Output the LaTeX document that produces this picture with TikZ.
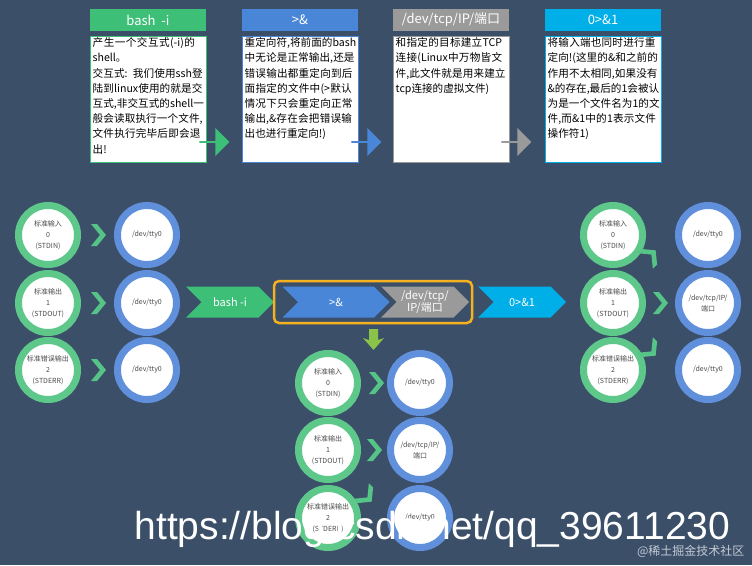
\documentclass[tikz,border=0pt]{standalone}
\usepackage{fontspec}
\setmainfont{Noto Sans CJK SC}
\XeTeXlinebreaklocale "zh"
\XeTeXlinebreakskip=0pt plus 1pt
\usetikzlibrary{shapes.symbols,shapes.arrows}
\definecolor{bg}{HTML}{3B4F69}
\definecolor{cg}{HTML}{3DBF78}
\definecolor{cb}{HTML}{4A86D8}
\definecolor{cgr}{HTML}{9A9A9A}
\definecolor{cc}{HTML}{00AEE8}
\definecolor{ring}{HTML}{5EC78A}
\definecolor{ringb}{HTML}{6090DC}
\definecolor{chevg}{HTML}{55C486}
\definecolor{orng}{HTML}{F5B21E}
\definecolor{dg}{HTML}{8BC34A}
\tikzset{
  hdr/.style={minimum width=116pt,minimum height=22pt,inner sep=0,text=white,font=\fontsize{13}{13}\selectfont},
  desc/.style={text width=112pt,inner sep=1.5pt,align=left,anchor=north west,font=\fontsize{10.6}{15.2}\selectfont,text=black},
  gc/.style={circle,minimum size=59pt,inner sep=0,fill=white,draw=ring,line width=7pt,align=center,font=\fontsize{7}{11}\selectfont,text=black!70},
  bc/.style={gc,draw=ringb},
  band/.style={signal,signal to=east,signal from=west,minimum height=31pt,inner sep=0,text=white,font=\fontsize{11}{13}\selectfont,align=center},
  barrow/.style={single arrow,minimum height=30pt,minimum width=28pt,single arrow head extend=3pt,inner sep=0},
}
\newcommand{\chv}[3]{\begin{scope}[shift={(#1,#2)},rotate=#3]\fill[chevg] (-7,-11)--(-1,-11)--(8,0)--(-1,11)--(-7,11)--(2,0)--cycle;\end{scope}}
\begin{document}
\begin{tikzpicture}[x=1pt,y=-1pt]
\fill[bg] (0,0) rectangle (752,565);
\useasboundingbox (0,0) rectangle (752,565);
% headers
\node[hdr,fill=cg] (h1) at (148,20) {bash\ \ -i};
\node[hdr,fill=cb] (h2) at (300,20) {>\&};
\node[hdr,fill=cgr] (h3) at (451,20) {/dev/tcp/IP/端口};
\node[hdr,fill=cc] (h4) at (603,20) {0>\&1};
\draw[cg,fill=white,line width=1pt] (90,36) rectangle (206,162);
\draw[cb,fill=white,line width=1pt] (242,36) rectangle (358,162);
\draw[black!40,fill=white,line width=1pt] (393,36) rectangle (509,162);
\draw[cc,fill=white,line width=1pt] (545,36) rectangle (661,162);
\node[desc] (d1) at (91,36) {产生一个交互式(-i)的shell。\\交互式: 我们使用ssh登陆到linux使用的就是交互式,非交互式的shell一般会读取执行一个文件,文件执行完毕后即会退出!};
\node[desc] (d2) at (243,36) {重定向符,将前面的bash中无论是正常输出,还是错误输出都重定向到后面指定的文件中(>默认情况下只会重定向正常输出,\&存在会把错误输出也进行重定向!)};
\node[desc] (d3) at (394,36) {和指定的目标建立TCP连接(Linux中万物皆文件,此文件就是用来建立tcp连接的虚拟文件)};
\node[desc] (d4) at (546,36) {将输入端也同时进行重定向!(这里的\&和之前的作用不太相同,如果没有\&的存在,最后的1会被认为是一个文件名为1的文件,而\&1中的1表示文件操作符1)};
\node[barrow,fill=cg] (a1) at (214,142) {};
\node[barrow,fill=cb] (a2) at (366,142) {};
\node[barrow,fill=cgr] (a3) at (516,142) {};
% left group
\node[gc] (l1) at (48,235) {标准输入\\0\\(STDIN)};
\node[gc] (l2) at (48,303) {标准输出\\1\\(STDOUT)};
\node[gc] (l3) at (48,370) {标准错误输出\\2\\(STDERR)};
\node[bc] (lb1) at (147,235) {/dev/tty0};
\node[bc] (lb2) at (147,303) {/dev/tty0};
\node[bc] (lb3) at (147,370) {/dev/tty0};
\chv{98}{235}{0}\chv{98}{303}{0}\chv{98}{370}{0}
% band
\node[band,fill=cg,minimum width=88pt] (s1) at (230,302) {bash -i};
\draw[orng,line width=2.5pt,rounded corners=5pt] (274,281) rectangle (472,323);
\node[band,fill=cb,minimum width=107pt] (s2) at (336,302) {>\&};
\node[band,fill=cgr,minimum width=88pt,font=\fontsize{11}{12}\selectfont] (s3) at (425,302) {/dev/tcp/\\IP/端口};
\node[band,fill=cc,minimum width=88pt] (s4) at (522,302) {0>\&1};
\fill[dg] (369,329) rectangle (378,340) -- (384,338)--(373.5,350)--(363,338)--(369,340)--cycle;
% right group
\node[gc] (r1) at (613,235) {标准输入\\0\\(STDIN)};
\node[gc] (r2) at (613,303) {标准输出\\1\\(STDOUT)};
\node[gc] (r3) at (613,370) {标准错误输出\\2\\(STDERR)};
\node[bc] (rb1) at (708,235) {/dev/tty0};
\node[bc] (rb2) at (708,303) {/dev/tcp/IP/\\端口};
\node[bc] (rb3) at (708,370) {/dev/tty0};
\chv{650}{256}{45}\chv{660}{303}{0}\chv{650}{350}{-45}
% bottom group
\node[gc] (m1) at (328,383) {标准输入\\0\\(STDIN)};
\node[gc] (m2) at (328,450) {标准输出\\1\\(STDOUT)};
\node[gc] (m3) at (328,518) {标准错误输出\\2\\(STDERR)};
\node[bc] (mb1) at (420,383) {/dev/tty0};
\node[bc] (mb2) at (420,450) {/dev/tcp/IP/\\端口};
\node[bc] (mb3) at (420,518) {/dev/tty0};
\chv{376}{383}{0}\chv{374}{450}{0}\chv{366}{496}{-45}
% watermark
\node[anchor=west,text=white,font=\fontsize{39}{39}\fontspec{Liberation Sans}] (wm) at (131,529) {https://blog.csdn.net/qq\_39611230};
\node[anchor=east,text=white!70!bg,font=\fontsize{12}{12}\selectfont] (wm2) at (748,551) {@稀土掘金技术社区};
\end{tikzpicture}
\end{document}
